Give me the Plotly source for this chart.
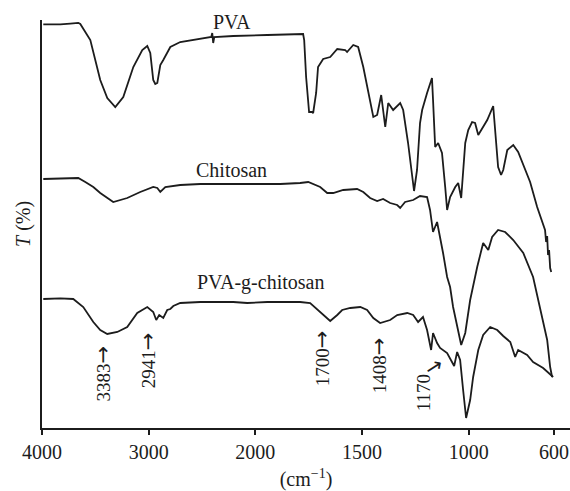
import numpy as np
import plotly.graph_objects as go

# ---- data (wavenumber in cm^-1, transmittance in arbitrary %-like units) ----
pva_wn = [3988, 3828, 3735, 3660, 3641, 3547, 3454, 3388, 3313, 3238, 3144, 3060, 3013, 2985,
          2957, 2938, 2919, 2891, 2863, 2797, 2704, 2516, 2413, 2404, 2395, 2385, 2207, 1944,
          1776, 1771, 1762, 1748, 1734, 1729, 1715, 1706, 1682, 1649, 1616, 1579, 1570, 1541,
          1518, 1494, 1471, 1447, 1429, 1410, 1391, 1377, 1354, 1321, 1307, 1284, 1256, 1242,
          1228, 1218, 1195, 1172, 1167, 1157, 1143, 1125, 1110, 1101, 1087, 1063, 1049, 1035,
          1016, 1002, 984, 970, 955, 937, 913, 885, 876, 862, 848, 838, 819, 791, 768, 735,
          712, 679, 651, 642, 637, 632, 628, 623, 618, 613]
pva_t = [100.9, 100.9, 101.1, 101.3, 101.0, 97.0, 87.0, 82.5, 80.25, 82.75, 90.25, 94.5, 95.5, 93.75,
         87.0, 86.0, 86.25, 90.75, 92.0, 95.25, 96.5, 97.25, 97.75, 98.75, 96.25, 97.75, 98.0, 98.25,
         98.5, 97.0, 87.75, 79.0, 79.0, 78.75, 83.75, 90.25, 92.25, 92.75, 94.75, 94.5, 94.0, 95.75,
         95.25, 90.25, 83.75, 77.75, 78.25, 83.25, 75.25, 81.25, 79.5, 81.25, 79.5, 71.25, 59.25, 64.5,
         76.25, 79.5, 83.75, 87.5, 82.0, 70.25, 71.25, 68.75, 60.25, 54.5, 57.75, 60.25, 61.25, 57.5,
         71.25, 74.5, 76.5, 76.25, 73.25, 75.0, 77.0, 80.5, 75.25, 65.25, 63.25, 64.5, 69.5, 70.75, 69.0, 64.5,
         61.5, 55.25, 50.75, 49.5, 46.5, 48.0, 43.25, 44.5, 40.0, 39.0]

chi_wn = [3988, 3828, 3735, 3688, 3660, 3594, 3519, 3454, 3332, 3201, 3079, 2957, 2919, 2891,
          2844, 2704, 2516, 2142, 1883, 1790, 1752, 1696, 1663, 1635, 1588, 1523, 1494, 1462,
          1429, 1401, 1368, 1335, 1321, 1298, 1260, 1228, 1195, 1181, 1167, 1148, 1134, 1120,
          1101, 1087, 1073, 1049, 1035, 1016, 993, 960, 932, 908, 890, 862, 829, 791, 744,
          698, 665, 632, 618, 609]
chi_t = [62.25, 62.4, 62.5, 62.6, 62.5, 61.5, 60.25, 58.75, 56.5, 57.5, 59.0, 60.25, 60.0, 59.0,
         60.25, 60.75, 61.0, 61.0, 61.0, 61.25, 61.5, 60.25, 58.75, 58.75, 59.5, 59.75, 59.0, 57.5,
         56.75, 57.25, 56.25, 55.75, 55.0, 56.5, 57.0, 58.0, 57.75, 54.5, 49.0, 51.5, 47.75, 43.75,
         37.75, 35.25, 30.25, 23.75, 20.75, 23.75, 32.0, 40.25, 46.25, 44.5, 47.75, 49.5, 49.0, 47.0, 43.75,
         37.75, 30.25, 22.0, 15.25, 12.75]

gft_wn = [3988, 3828, 3707, 3613, 3519, 3454, 3388, 3294, 3201, 3107, 3013, 2957, 2929, 2901,
          2863, 2826, 2797, 2769, 2704, 2516, 2207, 2076, 1944, 1790, 1743, 1696, 1649, 1616,
          1593, 1555, 1508, 1476, 1447, 1415, 1368, 1335, 1288, 1260, 1237, 1214, 1195, 1176,
          1167, 1148, 1134, 1101, 1087, 1068, 1054, 1040, 1026, 1012, 993, 979, 955, 932, 899,
          866, 838, 805, 782, 768, 726, 698, 651, 604]
gft_t = [32.25, 32.4, 32.25, 30.25, 26.5, 24.5, 23.5, 24.0, 25.25, 28.75, 30.25, 29.0, 27.0, 28.25,
         27.5, 29.5, 29.75, 30.5, 31.25, 31.5, 31.5, 31.25, 31.5, 31.5, 31.25, 29.0, 26.75, 28.25,
         29.5, 30.0, 30.25, 29.5, 27.5, 26.25, 27.0, 28.25, 28.75, 28.25, 26.5, 27.75, 24.5, 19.5,
         23.75, 21.25, 20.0, 18.75, 17.5, 15.5, 19.0, 17.0, 9.5, 2.5, 7.0, 12.75, 19.5, 23.25, 25.25,
         24.5, 23.0, 21.5, 17.75, 19.5, 18.25, 16.5, 15.0, 12.75]

tick_wn = [4000, 3000, 2000, 1500, 1000, 600]
tick_text = ["4000", "3000", "2000", "1500", "1000", "600"]

series_names = ["PVA", "Chitosan", "PVA-g-chitosan"]
series_label_wn = [2217, 2225, 1977]
series_label_t = [101.6, 64.5, 36.5]

peak_labels = ["3383", "2941", "1700", "1408", "1170"]
peak_label_wn = [3432, 3004, 1686, 1419, 1213]
peak_label_t = [13.5, 17.0, 17.5, 15.75, 8.75]
peak_has_inline_arrow = [True, True, True, True, False]


def to_u(w):
    """Piecewise axis: 4000-2000 compressed, 2000-400 expanded x2."""
    w = np.asarray(w, dtype=float)
    return np.where(w >= 2000, (4000 - w) / 1000.0, 2 + (2000 - w) / 500.0)


SERIF = "Liberation Serif, Times New Roman, serif"
INK = "#1c1c1c"
LINE = dict(color=INK, width=1.8)
ARROW = "<span style='font-family:DejaVu Sans;font-size:21px'>→</span>"

fig = go.Figure()
for wn, t, name in [(pva_wn, pva_t, series_names[0]),
                    (chi_wn, chi_t, series_names[1]),
                    (gft_wn, gft_t, series_names[2])]:
    fig.add_trace(go.Scatter(x=to_u(wn), y=t, mode="lines", line=LINE, name=name,
                             showlegend=False, hoverinfo="skip"))

ann = []
for n, w, t in zip(series_names, series_label_wn, series_label_t):
    ann.append(dict(x=float(to_u(w)), y=t, xref="x", yref="y", text=n, showarrow=False,
                    xanchor="center", yanchor="middle",
                    font=dict(family=SERIF, size=20, color=INK)))
for s, w, t, a in zip(peak_labels, peak_label_wn, peak_label_t, peak_has_inline_arrow):
    ann.append(dict(x=float(to_u(w)), y=t, xref="x", yref="y",
                    text=s + (ARROW if a else ""), showarrow=False,
                    textangle=-90, xanchor="center", yanchor="middle",
                    font=dict(family=SERIF, size=19, color=INK)))
# diagonal arrow for the 1170 label
ann.append(dict(x=float(to_u(1164)), y=15.3, xref="x", yref="y", text="→", showarrow=False,
                textangle=-33, xanchor="center", yanchor="middle",
                font=dict(family="DejaVu Sans", size=21, color=INK)))
# y-axis title
ann.append(dict(x=-0.036, y=0.5, xref="paper", yref="paper", text="<i>T</i> (%)",
                showarrow=False, textangle=-90, xanchor="center", yanchor="middle",
                font=dict(family=SERIF, size=20, color=INK)))

fig.update_layout(
    width=570, height=491,
    margin=dict(l=42, r=0, t=20, b=63),
    paper_bgcolor="white", plot_bgcolor="white",
    annotations=ann,
    xaxis=dict(range=[0, 4.95], tickvals=to_u(tick_wn).tolist(), ticktext=tick_text,
               showline=True, linecolor=INK, linewidth=2, mirror=False,
               ticks="outside", ticklen=5, tickwidth=2, tickcolor=INK,
               showgrid=False, zeroline=False,
               tickfont=dict(family=SERIF, size=20, color=INK),
               title=dict(text="(cm<sup>−1</sup>)", standoff=10,
                          font=dict(family=SERIF, size=20, color=INK))),
    yaxis=dict(range=[0, 102], showline=True, linecolor=INK, linewidth=2,
               ticks="", showticklabels=False, showgrid=False, zeroline=False),
)

fig.write_html("out.html")
